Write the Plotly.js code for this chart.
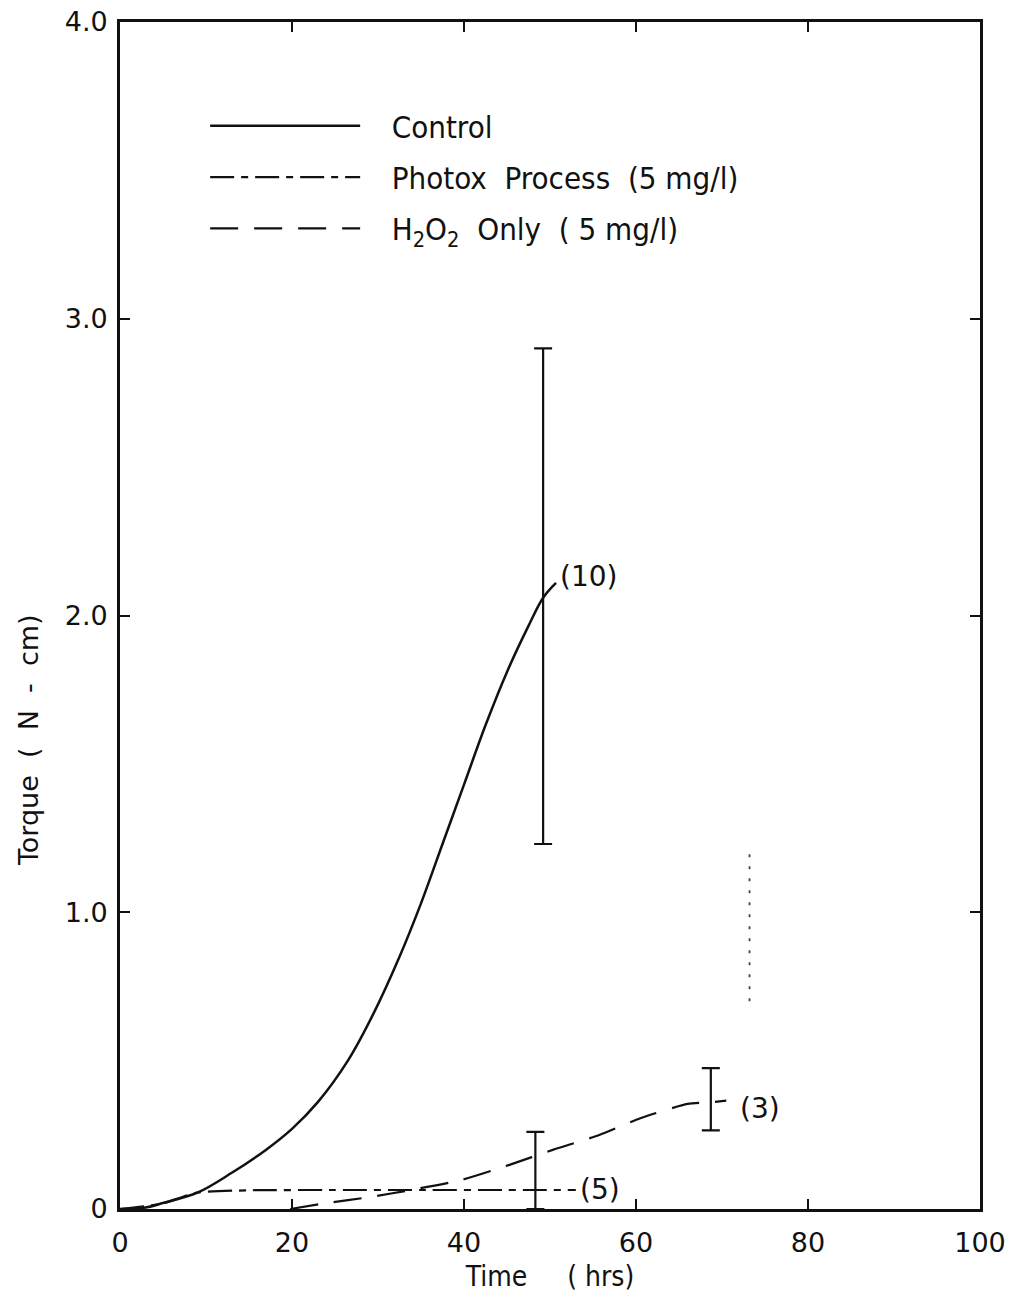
<!DOCTYPE html>
<html>
<head>
<meta charset="utf-8">
<script src="https://cdn.plot.ly/plotly-3.0.1.min.js"></script>
<style>
  html, body { margin: 0; padding: 0; background: #fff; }
  #chart { width: 1011px; height: 1302px; }
</style>
</head>
<body>
<div id="chart"></div>
<script>
// ---- Data ----
const seriesNames = ["Control", "Photox  Process  (5 mg/l)", "H<sub>2</sub>O<sub>2</sub>  Only  ( 5 mg/l)"];

const timeControl   = [0, 3, 5, 9, 13, 17, 20, 23, 26.5, 29.5, 32.5, 35, 37.5, 40, 42.5, 45, 47.5, 49.2, 50.7];
const torqueControl = [0, 0.005, 0.02, 0.055, 0.122, 0.2, 0.27, 0.36, 0.5, 0.66, 0.85, 1.03, 1.23, 1.43, 1.63, 1.81, 1.965, 2.06, 2.11];

const timePhotox   = [0, 4.7, 9, 15, 25, 35, 45, 53];
const torquePhotox = [0, 0.017, 0.055, 0.063, 0.064, 0.064, 0.064, 0.064];

const timeH2O2   = [19.8, 24, 29, 34, 39.7, 45.2, 50.4, 55.8, 60.5, 66.0, 68.7, 70.5];
const torqueH2O2 = [0, 0.02, 0.04, 0.065, 0.098, 0.148, 0.2, 0.25, 0.306, 0.354, 0.36, 0.365];

// error bars (x, centre, +, -)
const errTime   = [49.2, 48.3, 68.7];
const errCenter = [2.065, 0.13, 0.365];
const errPlus   = [0.835, 0.13, 0.11];
const errMinus  = [0.835, 0.13, 0.10];

// faint dotted vertical segment
const faintTime   = [73.2, 73.2];
const faintTorque = [0.70, 1.215];

// replicate counts labels
const countText   = ["(10)", "(3)", "(5)"];
const countTime   = [50.9, 71.9, 53.3];
const countTorque = [2.13, 0.34, 0.066];

// axis ticks and titles
const xTickVals = [0, 20, 40, 60, 80, 100];
const xTickText = ["0", "20", "40", "60", "80", "100"];
const yTickVals = [0, 1, 2, 3, 4];
const yTickText = ["0", "1.0", "2.0", "3.0", "4.0"];
const xTitle = "Time &nbsp;&nbsp;&nbsp; ( hrs)";
const yTitle = "Torque &nbsp;( &nbsp;N &nbsp;- &nbsp;cm)";

const INK = "#111";
const condFont = "'DejaVu Sans Condensed', 'Liberation Sans Narrow', sans-serif";
const tickFont = "'DejaVu Sans', sans-serif";
const PAD = "&nbsp;&nbsp;&nbsp;";

const traces = [
  {
    x: timeControl, y: torqueControl, name: PAD + seriesNames[0], legendgroup: "a",
    mode: "lines", line: { color: INK, width: 2.5, shape: "spline", smoothing: 1 }
  },
  {
    x: timePhotox, y: torquePhotox, name: PAD + seriesNames[1], legendgroup: "b",
    mode: "lines", line: { color: INK, width: 2.2, dash: "24px,7px,7px,7px", shape: "spline", smoothing: 0.6 }
  },
  {
    x: timeH2O2, y: torqueH2O2, name: PAD + seriesNames[2], legendgroup: "c",
    mode: "lines", line: { color: INK, width: 2.2, dash: "28px,16px", shape: "spline", smoothing: 0.6 }
  },
  {
    x: errTime, y: errCenter, mode: "markers", showlegend: false, hoverinfo: "skip",
    marker: { size: 1, opacity: 0 },
    error_y: { type: "data", symmetric: false, array: errPlus, arrayminus: errMinus,
               color: INK, thickness: 2.2, width: 9, visible: true }
  },
  {
    x: faintTime, y: faintTorque, mode: "lines", showlegend: false, hoverinfo: "skip",
    line: { color: "#444", width: 1.8, dash: "3px,9px" }
  }
];

const annotations = countText.map((t, i) => ({
  x: countTime[i], y: countTorque[i], xref: "x", yref: "y",
  text: t, showarrow: false, xanchor: "left", yanchor: "middle",
  font: { family: tickFont, size: 28, color: INK }
}));
annotations.push({
  x: -0.107, y: 0.395, xref: "paper", yref: "paper", textangle: -90,
  text: yTitle, showarrow: false, xanchor: "center", yanchor: "middle",
  font: { family: tickFont, size: 27, color: INK }
});

const layout = {
  width: 1011, height: 1302,
  paper_bgcolor: "#fff", plot_bgcolor: "#fff",
  margin: { l: 120, r: 31, t: 22, b: 93 },
  showlegend: true,
  legend: {
    x: 0.099, y: 0.935, xanchor: "left", yanchor: "top",
    bgcolor: "rgba(0,0,0,0)", borderwidth: 0,
    font: { family: condFont, size: 31, color: INK },
    itemwidth: 150, tracegroupgap: 8, traceorder: "grouped"
  },
  xaxis: {
    range: [0, 100], tickvals: xTickVals, ticktext: xTickText,
    ticks: "inside", ticklen: 10, tickwidth: 2, tickcolor: INK,
    showline: true, linecolor: INK, linewidth: 2.8, mirror: "ticks",
    showgrid: false, zeroline: false, ticklabelstandoff: 8,
    tickfont: { family: tickFont, size: 27, color: INK },
    title: { text: xTitle, standoff: 10,
             font: { family: condFont, size: 28, color: INK } }
  },
  yaxis: {
    range: [0, 4], tickvals: yTickVals, ticktext: yTickText,
    ticks: "inside", ticklen: 10, tickwidth: 2, tickcolor: INK,
    showline: true, linecolor: INK, linewidth: 2.8, mirror: "ticks",
    showgrid: false, zeroline: false, ticklabelstandoff: 4,
    tickfont: { family: tickFont, size: 27, color: INK }
  },
  annotations: annotations
};

Plotly.newPlot("chart", traces, layout, { staticPlot: true, displayModeBar: false });
</script>
</body>
</html>
